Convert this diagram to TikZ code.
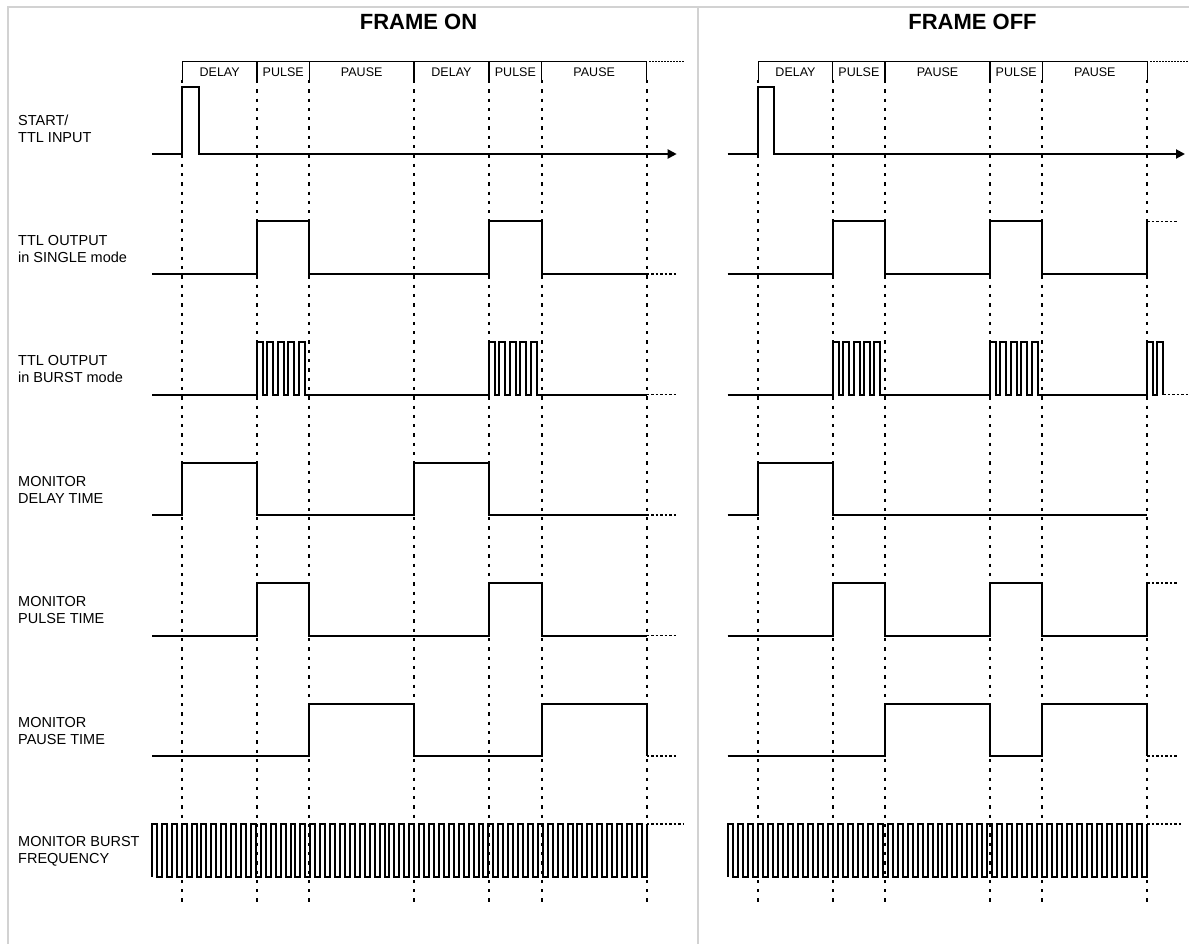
\documentclass[tikz,border=0pt]{standalone}
\usepackage{fontspec}
\setmainfont{Liberation Sans}
\usetikzlibrary{arrows.meta}
\tikzset{
  sig/.style={line width=2pt, line join=miter},
  guide/.style={line width=2pt, dash pattern=on 3.3pt off 6pt},
  cont/.style={line width=1.8pt, dash pattern=on 2.5pt off 2pt},
  brk/.style={line width=1.1pt},
  brkdots/.style={line width=1.1pt, dash pattern=on 1.5pt off 1.5pt},
  frm/.style={line width=1.5pt, gray!35},
  lbl/.style={anchor=west, align=left, inner sep=0pt, font=\fontsize{14.5}{17}\selectfont},
  seg/.style={inner sep=0pt, font=\fontsize{12.5}{14}\selectfont},
  ttl/.style={inner sep=0pt, font=\bfseries\fontsize{22}{26}\selectfont}
}
\begin{document}
\begin{tikzpicture}[x=1pt,y=-1pt]
      \useasboundingbox (0,0) rectangle (1189,944);
      \draw[frm] (8,944) -- (8,7) -- (1189,7);
      \draw[frm] (698,7) -- (698,944);
      \node[ttl] (tOn) at (418.5,22) {FRAME ON};
      \node[ttl] (tOff) at (972.5,22) {FRAME OFF};
      \node[lbl] (rStart) at (18,129) {START/\\TTL INPUT};
      \node[lbl] (rSingle) at (18,249) {TTL OUTPUT\\in SINGLE mode};
      \node[lbl] (rBurst) at (18,369.5) {TTL OUTPUT\\in BURST mode};
      \node[lbl] (rDelay) at (18,490) {MONITOR\\DELAY TIME};
      \node[lbl] (rPulse) at (18,610.5) {MONITOR\\PULSE TIME};
      \node[lbl] (rPause) at (18,731) {MONITOR\\PAUSE TIME};
      \node[lbl] (rFreq) at (18,851.5) {MONITOR BURST\\FREQUENCY};
      \node[seg] (sL1) at (219.7,72) {DELAY};
      \node[seg] (sL2) at (283.2,72) {PULSE};
      \node[seg] (sL3) at (361.7,72) {PAUSE};
      \node[seg] (sL4) at (451.5,72) {DELAY};
      \node[seg] (sL5) at (515.4,72) {PULSE};
      \node[seg] (sL6) at (594.2,72) {PAUSE};
      \node[seg] (sR1) at (795.5,72) {DELAY};
      \node[seg] (sR2) at (858.9,72) {PULSE};
      \node[seg] (sR3) at (937.5,72) {PAUSE};
      \node[seg] (sR4) at (1016.2,72) {PULSE};
      \node[seg] (sR5) at (1094.8,72) {PAUSE};
      \draw[brk] (182.3,80) -- (182.3,61.7) -- (646.7,61.7) -- (646.7,80);
      \draw[brk] (758.3,80) -- (758.3,61.7) -- (1147.3,61.7) -- (1147.3,80);
      \foreach \x in {257,309.3,414,489,541.7,832.7,885,990,1042.3}
        \draw[brk] (\x,61.7) -- (\x,80);
      \draw[brkdots] (649,61.7) -- (684,61.7);
      \draw[brkdots] (1150,61.7) -- (1189,61.7);
      \foreach \x in {182.3,257,309.3,414,489,541.7,646.7,758.3,832.7,885,990,1042.3,1147.3}
        \draw[guide] (\x,80) -- (\x,907);
      \draw[sig,-{Triangle[length=9pt,width=9pt]}] (152,154) -- (182.3,154) -- (182.3,87.3) -- (198.7,87.3) -- (198.7,154) -- (676.7,154);
      \draw[sig,-{Triangle[length=9pt,width=9pt]}] (727.7,154) -- (758.3,154) -- (758.3,87.3) -- (774.3,87.3) -- (774.3,154) -- (1185,154);
      \draw[sig] (152,274) -- (257,274) -- (257,221.5) -- (309.3,221.5) -- (309.3,274) -- (489,274) -- (489,221.5) -- (541.7,221.5) -- (541.7,274) -- (646.7,274);
      \draw[cont] (646.7,274) -- (677,274);
      \draw[sig] (727.7,274) -- (832.7,274) -- (832.7,221.5) -- (885,221.5) -- (885,274) -- (990,274) -- (990,221.5) -- (1042.3,221.5) -- (1042.3,274) -- (1147.3,274) -- (1147.3,221.5);
      \draw[cont] (1147.3,221.5) -- (1177,221.5);
      \draw[sig] (152,394.5) -- (257,394.5) \foreach \k in {1,...,5} { -- ++(0,-52.5) -- ++(6,0) -- ++(0,52.5) -- ++(4.4,0) } -- (489,394.5) \foreach \k in {1,...,5} { -- ++(0,-52.5) -- ++(6,0) -- ++(0,52.5) -- ++(4.4,0) } -- (646.7,394.5);
      \draw[cont] (646.7,394.5) -- (677,394.5);
      \draw[sig] (727.7,394.5) -- (832.7,394.5) \foreach \k in {1,...,5} { -- ++(0,-52.5) -- ++(6,0) -- ++(0,52.5) -- ++(4.4,0) } -- (990,394.5) \foreach \k in {1,...,5} { -- ++(0,-52.5) -- ++(6,0) -- ++(0,52.5) -- ++(4.4,0) } -- (1147.3,394.5) -- ++(0,-52.5) -- ++(6,0) -- ++(0,52.5) -- ++(4,0) -- ++(0,-52.5) -- ++(6,0) -- ++(0,52.5);
      \draw[cont] (1163.3,394.5) -- (1188,394.5);
      \draw[sig] (152,515) -- (182.3,515) -- (182.3,462.5) -- (257,462.5) -- (257,515) -- (414,515) -- (414,462.5) -- (489,462.5) -- (489,515) -- (646.7,515);
      \draw[cont] (646.7,515) -- (677,515);
      \draw[sig] (727.7,515) -- (758.3,515) -- (758.3,462.5) -- (832.7,462.5) -- (832.7,515) -- (1147.3,515);
      \draw[sig] (152,635.5) -- (257,635.5) -- (257,583) -- (309.3,583) -- (309.3,635.5) -- (489,635.5) -- (489,583) -- (541.7,583) -- (541.7,635.5) -- (646.7,635.5);
      \draw[cont] (646.7,635.5) -- (677,635.5);
      \draw[sig] (727.7,635.5) -- (832.7,635.5) -- (832.7,583) -- (885,583) -- (885,635.5) -- (990,635.5) -- (990,583) -- (1042.3,583) -- (1042.3,635.5) -- (1147.3,635.5) -- (1147.3,583);
      \draw[cont] (1147.3,583) -- (1177,583);
      \draw[sig] (152,756) -- (309.3,756) -- (309.3,703.5) -- (414,703.5) -- (414,756) -- (541.7,756) -- (541.7,703.5) -- (646.7,703.5) -- (646.7,756);
      \draw[cont] (646.7,756) -- (677,756);
      \draw[sig] (727.7,756) -- (885,756) -- (885,703.5) -- (990,703.5) -- (990,756) -- (1042.3,756) -- (1042.3,703.5) -- (1147.3,703.5) -- (1147.3,756);
      \draw[cont] (1147.3,756) -- (1177,756);
      \draw[sig] (152,876.5) \foreach \k in {1,...,50} { -- ++(0,-52.5) -- ++(4.947,0) -- ++(0,52.5) -- ++(4.947,0) } -- ++(0,-52.5);
      \draw[cont] (646.7,824) -- (683,824);
      \draw[sig] (727.7,876.5) \foreach \k in {1,...,42} { -- ++(0,-52.5) -- ++(4.995,0) -- ++(0,52.5) -- ++(4.995,0) } -- ++(0,-52.5);
      \draw[cont] (1147.3,824) -- (1182,824);
    \end{tikzpicture}
\end{document}
